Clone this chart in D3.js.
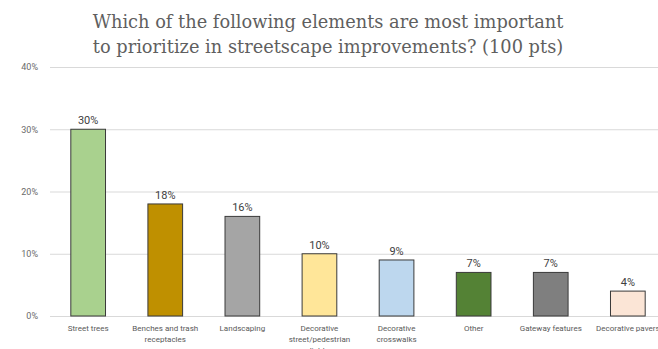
<!DOCTYPE html>
<html>
<head>
<meta charset="utf-8">
<script src="https://cdn.jsdelivr.net/npm/d3@7"></script>
<style>
  body { margin: 0; background: #fff; }
  svg { display: block; }
</style>
</head>
<body>
<svg id="chart" width="658" height="349"></svg>
<script>
const categories = [
  'Street trees',
  'Benches and trash receptacles',
  'Landscaping',
  'Decorative street/pedestrian lights',
  'Decorative crosswalks',
  'Other',
  'Gateway features',
  'Decorative pavers'
];
const values = [30, 18, 16, 10, 9, 7, 7, 4];
const colors = ['#a9d18e', '#bf9000', '#a5a5a5', '#ffe699', '#bdd7ee', '#548235', '#7f7f7f', '#fbe5d6'];
const yTicks = [0, 10, 20, 30, 40];
const titleLines = [
  'Which of the following elements are most important',
  'to prioritize in streetscape improvements? (100 pts)'
];

const width = 658, height = 349;
const margin = {top: 67, right: -8, bottom: 33, left: 50};

const svg = d3.select('#chart');

const x = d3.scaleBand()
  .domain(categories)
  .range([margin.left, width - margin.right])
  .paddingInner(0.55)
  .paddingOuter(0.27);

const y = d3.scaleLinear()
  .domain([0, 40])
  .range([height - margin.bottom, margin.top]);

// title
svg.append('g')
  .selectAll('text')
  .data(titleLines)
  .join('text')
  .attr('x', 328)
  .attr('y', (d, i) => 28 + i * 25)
  .attr('text-anchor', 'middle')
  .attr('font-family', 'DejaVu Serif')
  .attr('font-size', 17.8)
  .attr('fill', '#5f5f5f')
  .text(d => d);

// gridlines + y labels
const yAxis = d3.axisLeft(y)
  .tickValues(yTicks)
  .tickSize(-(width - margin.left))
  .tickPadding(12)
  .tickFormat(d => d + '%');

const gy = svg.append('g')
  .attr('transform', `translate(${margin.left},0)`)
  .call(yAxis);
gy.select('.domain').remove();
gy.selectAll('line').attr('stroke', '#d9d9d9');
gy.selectAll('text')
  .attr('font-family', 'Roboto')
  .attr('font-size', 9)
  .attr('fill', '#6a6a6a');

// bars
svg.append('g')
  .selectAll('rect')
  .data(values)
  .join('rect')
  .attr('x', (d, i) => x(categories[i]))
  .attr('y', d => y(d))
  .attr('width', x.bandwidth())
  .attr('height', d => y(0) - y(d))
  .attr('fill', (d, i) => colors[i])
  .attr('stroke', '#3a3a3a')
  .attr('stroke-width', 1);

// value labels
svg.append('g')
  .selectAll('text')
  .data(values)
  .join('text')
  .attr('x', (d, i) => x(categories[i]) + x.bandwidth() / 2)
  .attr('y', d => y(d) - 5)
  .attr('text-anchor', 'middle')
  .attr('font-family', 'Roboto')
  .attr('font-size', 11)
  .attr('fill', '#404040')
  .text(d => d + '%');

// category labels, wrapped
function wrap(label, maxW) {
  const words = label.split(' ');
  const lines = [];
  let cur = '';
  const ctx = document.createElement('canvas').getContext('2d');
  ctx.font = '8px Roboto';
  words.forEach(w => {
    const t = cur ? cur + ' ' + w : w;
    if (ctx.measureText(t).width > maxW && cur) {
      lines.push(cur);
      cur = w;
    } else {
      cur = t;
    }
  });
  lines.push(cur);
  return lines;
}

const gx = svg.append('g');
categories.forEach((c, i) => {
  const t = gx.append('text')
    .attr('x', x(c) + x.bandwidth() / 2)
    .attr('y', height - margin.bottom + 15)
    .attr('text-anchor', 'middle')
    .attr('font-family', 'Roboto')
    .attr('font-size', 8)
    .attr('fill', '#595959');
  wrap(c, 72).forEach((line, j) => {
    t.append('tspan')
      .attr('x', x(c) + x.bandwidth() / 2)
      .attr('dy', j === 0 ? 0 : 11)
      .text(line);
  });
});
</script>
</body>
</html>
